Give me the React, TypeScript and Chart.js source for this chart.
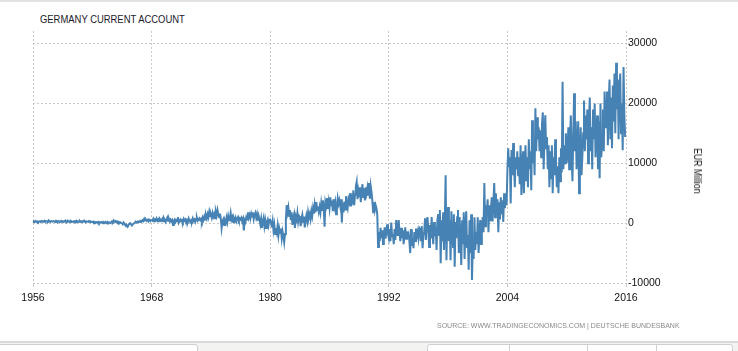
import React, { useEffect, useRef } from "react";
import { Chart, registerables } from "chart.js";

Chart.register(...registerables);

const chartTitle = "GERMANY CURRENT ACCOUNT";
const yAxisTitle = "EUR Million";
const sourceText = "SOURCE: WWW.TRADINGECONOMICS.COM | DEUTSCHE BUNDESBANK";

const startYear = 1956;
const endYear = 2016;
const xTickYears = [1956, 1968, 1980, 1992, 2004, 2016];
const yTickValues = [-10000, 0, 10000, 20000, 30000];

// Monthly current account, EUR million
const ca1956to1965 = [
  200, 300, 250, 350, 200, 300, 150, 250, 300, 200, 350, 250,
  300, 250, 400, 200, 350, 300, 250, 450, 300, 200, 350, 300,
  250, 350, 300, 200, 400, 250, 300, 350, 150, 300, 250, 350,
  300, 200, 350, 250, 300, 150, 400, 250, 300, 200, 350, 250,
  250, 300, 200, 350, 250, 400, 200, 300, 250, 350, 200, 300,
  200, 350, 250, 300, 150, 300, 250, 200, 350, 250, 300, 200,
  150, 250, 100, 200, 50, 150, 100, 200, 0, 150, 100, 200,
  100, 0, 150, 50, 200, 100, -50, 150, 50, 100, 0, 150,
  300, 200, 450, 250, 350, 150, 300, 100, 200, 0, 150, 50,
  0, -200, 100, -100, -300, -500, -400, -600, -300, -100, 0, -200,
];

const ca1966to1975 = [
  -300, -200, -100, 0, 100, 200, 100, 250, 150, 300, 200, 350,
  300, 500, 350, 700, 450, 600, 400, 550, 300, 600, 450, 500,
  500, 400, 700, 300, 600, 500, 800, 400, 600, 300, 700, 500,
  400, 700, 300, 800, 500, 200, 600, 900, 400, 700, 300, 600,
  300, 500, -300, 400, 600, 200, 500, 300, 1000, 100, 400, 600,
  300, 500, 200, 700, 400, 600, 100, 500, 300, 800, 400, 200,
  500, 300, 800, 400, 600, 200, 700, 900, 400, 600, 800, 500,
  700, 300, 900, 500, 1100, 600, 1300, 800, 1500, 1000, 1900, 1200,
  1400, 900, 1700, 1100, 1500, 800, 1900, 1300, 2200, 1500, 1000, 1600,
  800, -800, 300, 600, -300, 400, 0, 900, 200, 1200, 500, 800,
];

const ca1976to1985 = [
  1700, 600, 1000, 200, 800, 400, 900, 300, 700, 1000, 500, 800,
  600, 900, 300, 700, -1200, 500, 200, 1000, 600, 1800, 900, 1400,
  800, 1600, 1100, 1800, 700, 1300, 1700, 900, 1500, 400, 1200, 600,
  -200, 700, -800, 300, 900, -500, 400, -800, 200, 600, -300, 500,
  600, 100, -700, 300, -1200, -300, -1800, -800, -1500, -400, -2000, -900,
  -1600, -900, -2500, -1400, -2200, -3200, -1800, 500, 3000, 1800, 2600, 1200,
  2200, 500, 1800, -300, 900, 1500, -800, 1100, 600, 1700, 300, 1200,
  1000, -500, 800, 1400, 200, 1100, -700, 600, 1300, 400, 1800, 900,
  1500, 700, 2000, 1200, 2500, 1600, 3000, 1800, 3500, 2200, 2800, 1900,
  2700, 1800, 3300, 2200, 3800, 2600, -600, 3500, 2900, 4200, 2400, 3600,
];

const ca1986to1995 = [
  2500, 4300, 3000, 3800, 2000, 4000, 2800, 3500, 1500, 2600, 4100, 3200,
  3800, 2900, 4000, 100, 3300, 1800, 3600, 2300, 4500, 3100, 2500, 4000,
  3500, 5000, 2800, 4200, 3700, 5500, 3000, 4800, 6200, 6900, 4000, 5400,
  4500, 6000, 3500, 5300, 6500, 4200, 5800, 3800, 6000, 5000, 5900, 4600,
  6700, 4100, 6200, 5200, 3800, 1800, 3500, 2200, 3000, 2500, 1500, -4000,
  -1500, -3000, -800, -2500, -1200, -3500, -2000, -700, -2600, -1400, -200, -1800,
  -2500, -1000, -3000, 100, -2200, -1800, -3500, -1000, -2800, 500, -2000, -1200,
  500, -1500, -3000, -800, -2500, -1200, -3500, -2000, -700, -2600, -1400, -2200,
  -1800, -3000, -5000, -1000, -3800, -2500, -4200, -1500, -3000, -900, -2200, -1500,
  -2500, -800, -1000, -3000, -500, -4200, -2000, -1500, 800, -2800, -600, 1000,
];

const ca1996to2005 = [
  -1000, -4000, -300, -2500, 1000, -1800, -3500, 200, -2200, -600, -4500, 500,
  1500, -2000, 2200, -6700, 500, -3000, 1800, -4500, 300, 8000, -6200, 1000,
  2700, -3000, 500, -6200, 2000, -1500, -4000, 1500, -7300, 200, -2500, 1000,
  2200, -5000, 1000, -2800, -7000, 500, -3500, 1800, -6000, -1000, 2000, -4000,
  -2000, -7800, 500, -5000, 1500, -9500, -3000, -6000, 1000, -4500, -1500, -3500,
  1000, -5000, -2000, 500, -3500, -1000, 1000, -1500, 6700, -500, 3000, 1500,
  4000, -1500, 3000, 500, 2500, 4300, 300, 3500, 6700, 1000, 5000, 2000,
  4000, -1500, 3500, 600, 4300, 1500, 3800, 200, 5000, 2500, 4500, 3000,
  8800, 12500, 9500, 11000, 3300, 12200, 8000, 13400, 10000, 6000, 11000, 9000,
  12000, 8000, 11000, 6500, 13000, 4700, 10000, 12000, 5000, 9500, 13000, 7000,
];

const ca2006to2015 = [
  11000, 6000, 14000, 9000, 12000, 5500, 17200, 10000, 13000, 8000, 19200, 12000,
  17700, 14000, 16000, 12000, 15500, 11000, 16500, 18500, 9000, 14000, 18000, 12500,
  14400, 9000, 13000, 6000, 12000, 7500, 13000, 5000, 11000, 8000, 14000, 10000,
  6000, 9500, 5000, 11000, 7000, 12500, 8500, 23600, 9000, 13000, 10000, 15000,
  10000, 12000, 16000, 9000, 14000, 18000, 11000, 7000, 15000, 21700, 12000, 17000,
  9000, 13000, 17000, 5000, 12000, 16000, 8000, 11000, 15000, 20500, 12000, 18000,
  14000, 19000, 10000, 17000, 21000, 12000, 16000, 9000, 19000, 14000, 20000, 11000,
  15000, 18000, 9000, 17000, 7500, 20000, 11000, 14000, 19000, 12000, 22000, 16000,
  16000, 22000, 13000, 20000, 24000, 14000, 21000, 12500, 23000, 17000, 25000, 15000,
  26800, 19000, 24000, 14000, 22000, 25000, 15000, 20000, 12200, 26100, 18000, 14400,
];

const currentAccount = [
  ...ca1956to1965,
  ...ca1966to1975,
  ...ca1976to1985,
  ...ca1986to1995,
  ...ca1996to2005,
  ...ca2006to2015,
];

const FONT = "'Liberation Sans', Arial, sans-serif";

export default function App() {
  const canvasRef = useRef<HTMLCanvasElement | null>(null);

  useEffect(() => {
    if (!canvasRef.current) return;
    const points = currentAccount.map((v, i) => ({ x: startYear + i / 12, y: v }));
    const chart = new Chart(canvasRef.current, {
      type: "line",
      data: {
        datasets: [
          {
            data: points,
            borderColor: "#4682b4",
            borderWidth: 2,
            pointRadius: 0,
            pointHoverRadius: 0,
            tension: 0,
            fill: false,
          },
        ],
      },
      options: {
        animation: false,
        responsive: false,
        devicePixelRatio: 1,
        layout: { padding: { left: 33, top: 31, right: 62, bottom: 38 } },
        plugins: {
          legend: { display: false },
          tooltip: { enabled: false },
          title: { display: false },
        },
        scales: {
          x: {
            type: "linear",
            min: startYear,
            max: endYear,
            afterBuildTicks: (scale: any) => {
              scale.ticks = xTickYears.map((v) => ({ value: v }));
            },
            afterFit: (scale: any) => {
              scale.height = 30;
            },
            ticks: {
              callback: (v: any) => String(v),
              font: { family: FONT, size: 10.5 },
              color: "#111",
              padding: 5,
              maxRotation: 0,
              autoSkip: false,
            },
            grid: { color: "#c8c8c8", tickLength: 4, drawTicks: true },
            border: { display: false, dash: [2, 2] },
          },
          y: {
            position: "right",
            min: -10000,
            max: 32100,
            afterBuildTicks: (scale: any) => {
              scale.ticks = yTickValues.map((v) => ({ value: v }));
            },
            afterFit: (scale: any) => {
              scale.width = 50;
            },
            ticks: {
              callback: (v: any) => String(v),
              font: { family: FONT, size: 10.5 },
              color: "#111",
              padding: 2,
            },
            grid: { color: "#c8c8c8", drawTicks: false },
            border: { display: false, dash: [2, 2] },
          },
        },
      } as any,
    });
    return () => chart.destroy();
  }, []);

  return (
    <div
      style={{
        position: "absolute",
        left: 0,
        top: 0,
        width: 738,
        height: 351,
        overflow: "hidden",
        background: "#fff",
        fontFamily: FONT,
      }}
    >
      <div style={{ position: "absolute", left: 0, top: 0, width: 738, height: 2, background: "#e2e2e2" }} />
      <div
        style={{
          position: "absolute",
          left: 40,
          top: 12,
          fontSize: 11.5,
          lineHeight: "14px",
          color: "#1a1a2a",
          whiteSpace: "nowrap",
          transform: "scaleX(0.82)",
          transformOrigin: "left center",
        }}
      >
        {chartTitle}
      </div>
      <canvas ref={canvasRef} width={738} height={351} style={{ position: "absolute", left: 0, top: 0, display: "block" }} />
      <div
        style={{
          position: "absolute",
          left: 697,
          top: 171,
          fontSize: 10,
          lineHeight: "12px",
          color: "#111",
          whiteSpace: "nowrap",
          transform: "translate(-50%, -50%) rotate(90deg) scaleX(0.87)",
        }}
      >
        {yAxisTitle}
      </div>
      <div
        style={{
          position: "absolute",
          left: 437,
          top: 321,
          fontSize: 7,
          lineHeight: "10px",
          color: "#8a8a8a",
          whiteSpace: "nowrap",
        }}
      >
        {sourceText}
      </div>
      <div style={{ position: "absolute", left: 0, top: 341, width: 738, height: 2, background: "#d9d9d9" }} />
      <div style={{ position: "absolute", left: 0, top: 343, width: 738, height: 8, background: "#f3f3f1" }} />
      <div
        style={{
          position: "absolute",
          left: -2,
          top: 344,
          width: 198,
          height: 10,
          background: "#fff",
          border: "1px solid #cfcfcf",
          borderRadius: "0 3px 0 0",
        }}
      />
      {[427, 509, 587, 656].map((l, i, arr) => (
        <div
          key={l}
          style={{
            position: "absolute",
            left: l,
            top: 344,
            width: (i < arr.length - 1 ? arr[i + 1] : 732) - l - 1,
            height: 10,
            background: "#fff",
            border: "1px solid #cfcfcf",
            borderRadius: i === 0 ? "3px 0 0 0" : i === arr.length - 1 ? "0 3px 0 0" : 0,
          }}
        />
      ))}
    </div>
  );
}
